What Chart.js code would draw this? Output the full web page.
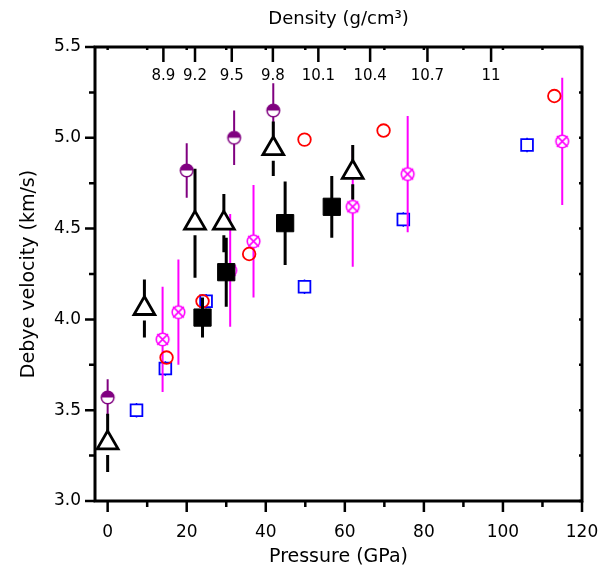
<!DOCTYPE html>
<html>
<head>
<meta charset="utf-8">
<script src="https://cdn.jsdelivr.net/npm/chart.js@4"></script>
<style>
  html, body { margin: 0; padding: 0; background: #fff; }
  canvas { display: block; }
</style>
</head>
<body>
<canvas id="chart" width="607" height="569"></canvas>
<script>
// pressure (GPa) / Debye velocity (km/s) / half error bar, per data set
const squareP = [24.0, 30.0, 44.9, 56.7];
const squareV = [4.01, 4.26, 4.53, 4.62];
const squareErr = [0.11, 0.19, 0.23, 0.17];

const triangleP = [0, 9.3, 22.1, 29.4, 41.9, 62.0];
const triangleV = [3.32, 4.06, 4.53, 4.53, 4.94, 4.81];
const triangleErr = [0.16, 0.16, 0.30, 0.16, 0.15, 0.15];

const purpleP = [0, 20.0, 32.0, 41.9];
const purpleV = [3.57, 4.82, 5.00, 5.15];
const purpleErr = [0.10, 0.15, 0.15, 0.15];

const redP = [14.9, 24.0, 35.8, 49.8, 69.8, 113.0];
const redV = [3.79, 4.10, 4.36, 4.99, 5.04, 5.23];

const magentaP = [13.9, 17.9, 31.0, 36.9, 62.0, 75.9, 115.0];
const magentaV = [3.89, 4.04, 4.27, 4.43, 4.62, 4.80, 4.98];
const magentaErr = [0.29, 0.29, 0.31, 0.31, 0.33, 0.32, 0.35];

const blueP = [7.3, 14.6, 24.9, 49.8, 74.8, 106.1];
const blueV = [3.50, 3.73, 4.10, 4.18, 4.55, 4.96];
const blueErr = [0.04, 0.04, 0.04, 0.04, 0.04, 0.04];

// top axis: density labels and the pressure where each one sits
const densityLabels = ['8.9', '9.2', '9.5', '9.8', '10.1', '10.4', '10.7', '11'];
const densityAtP = [14.1, 22.1, 31.4, 41.8, 53.3, 66.4, 80.9, 97.0];

const FONT = 'DejaVu Sans';

function points(xs, ys) {
    return xs.map((x, i) => ({ x: x, y: ys[i] }));
}

function halfCircle(r, color) {
    const c = document.createElement('canvas');
    const s = Math.ceil(r * 2 + 4);
    c.width = c.height = s;
    const g = c.getContext('2d');
    const m = s / 2;
    g.fillStyle = '#fff';
    g.beginPath(); g.arc(m, m, r, 0, Math.PI * 2); g.fill();
    g.fillStyle = color;
    g.beginPath(); g.arc(m, m, r, Math.PI, Math.PI * 2); g.closePath(); g.fill();
    g.strokeStyle = color; g.lineWidth = 1.5;
    g.beginPath(); g.arc(m, m, r, 0, Math.PI * 2); g.stroke();
    return c;
}

function crossCircle(r, color) {
    const c = document.createElement('canvas');
    const s = Math.ceil(r * 2 + 6);
    c.width = c.height = s;
    const g = c.getContext('2d');
    const m = s / 2;
    const d = r * 0.85;
    g.fillStyle = '#fff';
    g.beginPath(); g.arc(m, m, r, 0, Math.PI * 2); g.fill();
    g.strokeStyle = color; g.lineWidth = 1.6;
    g.beginPath(); g.arc(m, m, r, 0, Math.PI * 2); g.stroke();
    g.beginPath();
    g.moveTo(m - d, m - d); g.lineTo(m + d, m + d);
    g.moveTo(m + d, m - d); g.lineTo(m - d, m + d);
    g.stroke();
    return c;
}

// vertical error bars, drawn just before each data set's markers
const errorBars = {
    id: 'errorBars',
    beforeDatasetDraw(chart, args) {
        const ds = chart.data.datasets[args.index];
        if (!ds.errors) return;
        const ctx = chart.ctx;
        const yScale = chart.scales.y;
        const gap = ds.errorGap || 0;
        ctx.save();
        ctx.strokeStyle = ds.errorColor;
        ctx.lineWidth = ds.errorWidth;
        args.meta.data.forEach((pt, i) => {
            const v = ds.data[i].y;
            const top = yScale.getPixelForValue(v + ds.errors[i]);
            const bot = yScale.getPixelForValue(v - ds.errors[i]);
            ctx.beginPath();
            ctx.moveTo(pt.x, top);
            ctx.lineTo(pt.x, pt.y - gap);
            ctx.moveTo(pt.x, pt.y + gap);
            ctx.lineTo(pt.x, bot);
            ctx.stroke();
        });
        ctx.restore();
    }
};

// box frame, tick marks and the density ticks along the top
const frame = {
    id: 'frame',
    afterDraw(chart) {
        const ctx = chart.ctx;
        const a = chart.chartArea;
        const x = chart.scales.x;
        const y = chart.scales.y;
        ctx.save();
        ctx.strokeStyle = '#000';
        ctx.lineWidth = 2.5;
        ctx.beginPath();
        x.ticks.forEach(t => {
            const px = x.getPixelForValue(t.value);
            const len = t.value % 20 === 0 ? 11 : 6;
            ctx.moveTo(px, a.bottom); ctx.lineTo(px, a.bottom + len);
            ctx.moveTo(px, a.top); ctx.lineTo(px, a.top + 3);
        });
        y.ticks.forEach(t => {
            const py = y.getPixelForValue(t.value);
            const major = Math.abs(t.value * 2 - Math.round(t.value * 2)) < 1e-6;
            ctx.moveTo(a.left, py); ctx.lineTo(a.left - (major ? 10 : 6), py);
            ctx.moveTo(a.right, py); ctx.lineTo(a.right - 3, py);
        });
        densityAtP.forEach(p => {
            const px = x.getPixelForValue(p);
            ctx.moveTo(px, a.top); ctx.lineTo(px, a.top + 15);
        });
        ctx.stroke();

        ctx.lineWidth = 3;
        ctx.strokeRect(a.left, a.top, a.right - a.left, a.bottom - a.top);

        ctx.fillStyle = '#000';
        ctx.font = '15px "' + FONT + '"';
        ctx.textAlign = 'center';
        ctx.textBaseline = 'middle';
        densityLabels.forEach((lab, i) => {
            ctx.fillText(lab, x.getPixelForValue(densityAtP[i]), a.top + 29);
        });
        ctx.restore();
    }
};

const datasets = [
    {
        label: 'filled squares',
        data: points(squareP, squareV),
        errors: squareErr, errorColor: '#000', errorWidth: 3,
        pointStyle: 'rect', pointRadius: 12.2,
        backgroundColor: '#000', borderColor: '#000', borderWidth: 1
    },
    {
        label: 'open triangles',
        data: points(triangleP, triangleV),
        errors: triangleErr, errorColor: '#000', errorWidth: 3, errorGap: 12,
        pointStyle: 'triangle', pointRadius: 12,
        backgroundColor: '#fff', borderColor: '#000', borderWidth: 2.8
    },
    {
        label: 'half circles',
        data: points(purpleP, purpleV),
        errors: purpleErr, errorColor: '#800080', errorWidth: 2, errorGap: 6,
        pointStyle: halfCircle(6.3, '#800080'), pointRadius: 7
    },
    {
        label: 'open circles',
        data: points(redP, redV),
        pointStyle: 'circle', pointRadius: 6.3,
        backgroundColor: 'rgba(255,255,255,0)', borderColor: '#ff0000', borderWidth: 1.8
    },
    {
        label: 'crossed circles',
        data: points(magentaP, magentaV),
        errors: magentaErr, errorColor: '#ff00ff', errorWidth: 2, errorGap: 6,
        pointStyle: crossCircle(6.3, '#ff00ff'), pointRadius: 7
    },
    {
        label: 'open squares',
        data: points(blueP, blueV),
        errors: blueErr, errorColor: '#0000ff', errorWidth: 1.5,
        pointStyle: 'rect', pointRadius: 8.3,
        backgroundColor: '#fff', borderColor: '#0000ff', borderWidth: 1.8
    }
];

new Chart(document.getElementById('chart'), {
    type: 'scatter',
    data: { datasets: datasets },
    options: {
        responsive: false,
        animation: false,
        events: [],
        layout: { padding: { left: 0, right: 25, top: 0, bottom: 0 } },
        plugins: { legend: { display: false }, tooltip: { enabled: false } },
        scales: {
            x: {
                type: 'linear', position: 'bottom',
                min: -3.2, max: 120,
                afterFit: s => { s.height = 68; s.paddingLeft = 0; s.paddingRight = 0; },
                grid: { display: false, drawTicks: false },
                border: { display: false },
                ticks: {
                    stepSize: 10, includeBounds: false, autoSkip: false, maxRotation: 0,
                    padding: 21, color: '#000', font: { family: FONT, size: 17 },
                    callback: v => (v % 20 === 0 ? String(v) : '')
                },
                title: {
                    display: true, text: 'Pressure (GPa)', color: '#000',
                    font: { family: FONT, size: 19 }, padding: { top: 0, bottom: 1 }
                }
            },
            x2: {
                type: 'linear', position: 'top',
                min: -3.2, max: 120,
                afterFit: s => { s.height = 47; s.paddingLeft = 0; s.paddingRight = 0; },
                grid: { display: false, drawTicks: false },
                border: { display: false },
                ticks: { display: false },
                title: {
                    display: true, text: 'Density (g/cm³)', color: '#000',
                    font: { family: FONT, size: 18 }, padding: { top: 9, bottom: 0 }
                }
            },
            y: {
                type: 'linear', position: 'left',
                min: 3.0, max: 5.5,
                afterFit: s => { s.width = 95; s.paddingTop = 0; s.paddingBottom = 0; },
                grid: { display: false, drawTicks: false },
                border: { display: false },
                ticks: {
                    stepSize: 0.25, autoSkip: false, padding: 14,
                    color: '#000', font: { family: FONT, size: 17 },
                    callback: v => (Math.abs(v * 2 - Math.round(v * 2)) < 1e-6 ? v.toFixed(1) : '')
                },
                title: {
                    display: true, text: 'Debye velocity (km/s)', color: '#000',
                    font: { family: FONT, size: 19 }, padding: { top: 18, bottom: 0 }
                }
            }
        }
    },
    plugins: [errorBars, frame]
});
</script>
</body>
</html>
